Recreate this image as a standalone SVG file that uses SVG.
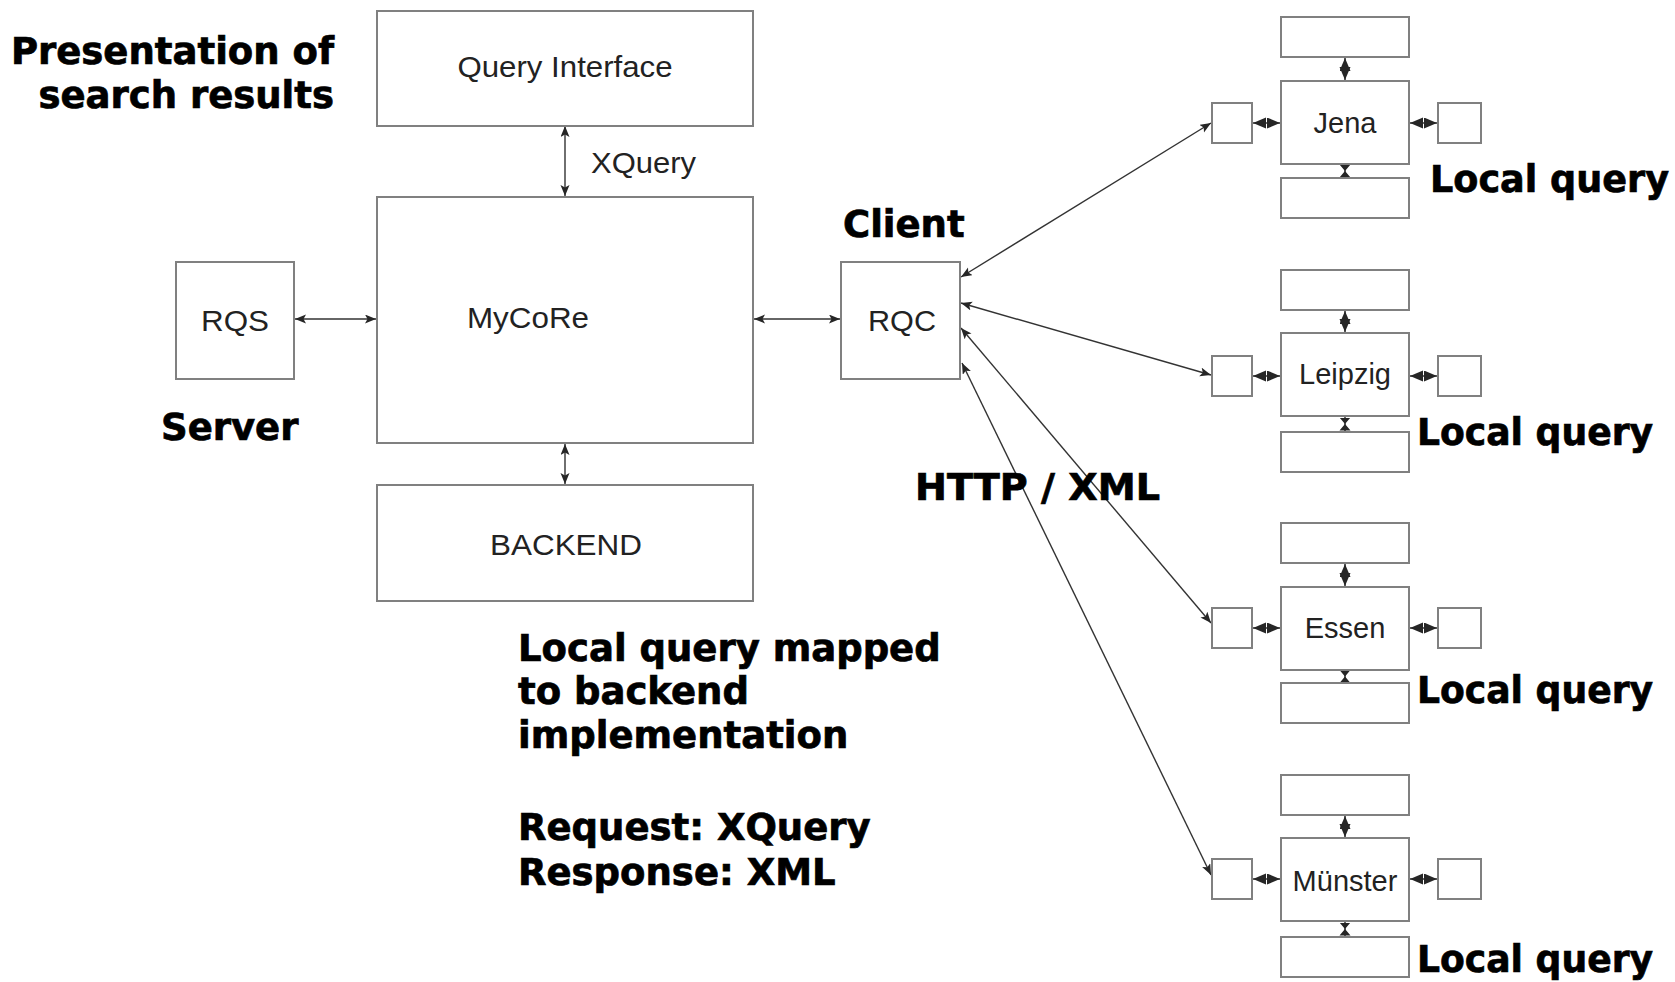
<svg xmlns="http://www.w3.org/2000/svg" width="1675" height="982" viewBox="0 0 1675 982">
<style>
.box{fill:#fff;stroke:#808080;stroke-width:2}
.lbl{font-family:"Liberation Sans",Arial,sans-serif;font-size:30px;fill:#222}
.site{font-family:"Liberation Sans",Arial,sans-serif;font-size:29px;fill:#222;text-anchor:middle}
.bold{font-family:"DejaVu Sans",Verdana,sans-serif;font-weight:bold;font-size:37px;fill:#000;stroke:#000;stroke-width:0.7}
.con{stroke:#333;stroke-width:1.4;fill:none;marker-start:url(#ah);marker-end:url(#ah)}
.sc{stroke:#333;stroke-width:1.5;fill:none;marker-start:url(#sh);marker-end:url(#sh)}
.tc{stroke:#333;stroke-width:1.5;fill:none;marker-mid:url(#hg)}
</style>
<defs>
<marker id="ah" markerUnits="userSpaceOnUse" markerWidth="12" markerHeight="10" refX="11" refY="4.5" orient="auto-start-reverse"><path d="M0,0 L11,4.5 L0,9 L2.5,4.5 z" fill="#262626"/></marker>
<marker id="sh" markerUnits="userSpaceOnUse" markerWidth="14" markerHeight="12" refX="13" refY="5.5" orient="auto-start-reverse"><path d="M0,0 L13,5.5 L0,11 z" fill="#262626"/></marker>
<marker id="hg" markerUnits="userSpaceOnUse" markerWidth="14" markerHeight="12" refX="6.5" refY="5.5" orient="auto"><path d="M0,0 L6.5,5.5 L0,11 z M13,0 L6.5,5.5 L13,11 z" fill="#262626"/></marker>
</defs>
<rect width="1675" height="982" fill="#fff"/>

<g id="connectors">
<line class="con" x1="565" y1="126" x2="565" y2="196"/>
<line class="con" x1="295" y1="319" x2="376" y2="319"/>
<line class="con" x1="565" y1="444" x2="565" y2="484"/>
<line class="con" x1="754" y1="319" x2="840" y2="319"/>
<line class="con" x1="961" y1="277" x2="1211" y2="123"/>
<line class="con" x1="961" y1="303" x2="1211" y2="375"/>
<line class="con" x1="961" y1="328" x2="1211" y2="623"/>
<line class="con" x1="962" y1="363" x2="1211" y2="875"/>
<!-- Jena -->
<line class="sc" x1="1345" y1="58" x2="1345" y2="80"/>
<polyline class="tc" points="1345,165 1345,171 1345,177"/>
<line class="sc" x1="1253" y1="123" x2="1280" y2="123"/>
<line class="sc" x1="1410" y1="123" x2="1437" y2="123"/>
<!-- Leipzig -->
<line class="sc" x1="1345" y1="311" x2="1345" y2="332"/>
<polyline class="tc" points="1345,417 1345,424 1345,431"/>
<line class="sc" x1="1253" y1="376" x2="1280" y2="376"/>
<line class="sc" x1="1410" y1="376" x2="1437" y2="376"/>
<!-- Essen -->
<line class="sc" x1="1345" y1="564" x2="1345" y2="586"/>
<polyline class="tc" points="1345,671 1345,676.5 1345,682"/>
<line class="sc" x1="1253" y1="628" x2="1280" y2="628"/>
<line class="sc" x1="1410" y1="628" x2="1437" y2="628"/>
<!-- Münster -->
<line class="sc" x1="1345" y1="816" x2="1345" y2="837"/>
<polyline class="tc" points="1345,922 1345,929 1345,936"/>
<line class="sc" x1="1253" y1="879" x2="1280" y2="879"/>
<line class="sc" x1="1410" y1="879" x2="1437" y2="879"/>
</g>

<g id="query-interface"><rect class="box" x="377" y="11" width="376" height="115"/><text class="lbl" x="565" y="77" text-anchor="middle" textLength="215" lengthAdjust="spacingAndGlyphs">Query Interface</text></g>
<g id="xquery-label"><text class="lbl" x="591" y="173" textLength="105" lengthAdjust="spacingAndGlyphs">XQuery</text></g>
<g id="mycore"><rect class="box" x="377" y="197" width="376" height="246"/><text class="lbl" x="467" y="328" textLength="122" lengthAdjust="spacingAndGlyphs">MyCoRe</text></g>
<g id="backend"><rect class="box" x="377" y="485" width="376" height="116"/><text class="lbl" x="566" y="555" text-anchor="middle" textLength="152" lengthAdjust="spacingAndGlyphs">BACKEND</text></g>
<g id="rqs"><rect class="box" x="176" y="262" width="118" height="117"/><text class="lbl" x="235" y="331" text-anchor="middle" textLength="68" lengthAdjust="spacingAndGlyphs">RQS</text></g>
<g id="rqc"><rect class="box" x="841" y="262" width="119" height="117"/><text class="lbl" x="902" y="331" text-anchor="middle" textLength="68" lengthAdjust="spacingAndGlyphs">RQC</text></g>

<g id="jena">
<rect class="box" x="1281" y="17" width="128" height="40"/>
<rect class="box" x="1281" y="81" width="128" height="83"/>
<rect class="box" x="1281" y="178" width="128" height="40"/>
<rect class="box" x="1212" y="103" width="40" height="40"/>
<rect class="box" x="1438" y="103" width="43" height="40"/>
<text class="site" x="1345" y="133">Jena</text>
</g>
<g id="leipzig">
<rect class="box" x="1281" y="270" width="128" height="40"/>
<rect class="box" x="1281" y="333" width="128" height="83"/>
<rect class="box" x="1281" y="432" width="128" height="40"/>
<rect class="box" x="1212" y="356" width="40" height="40"/>
<rect class="box" x="1438" y="356" width="43" height="40"/>
<text class="site" x="1345" y="384">Leipzig</text>
</g>
<g id="essen">
<rect class="box" x="1281" y="523" width="128" height="40"/>
<rect class="box" x="1281" y="587" width="128" height="83"/>
<rect class="box" x="1281" y="683" width="128" height="40"/>
<rect class="box" x="1212" y="608" width="40" height="40"/>
<rect class="box" x="1438" y="608" width="43" height="40"/>
<text class="site" x="1345" y="638">Essen</text>
</g>
<g id="muenster">
<rect class="box" x="1281" y="775" width="128" height="40"/>
<rect class="box" x="1281" y="838" width="128" height="83"/>
<rect class="box" x="1281" y="937" width="128" height="40"/>
<rect class="box" x="1212" y="859" width="40" height="40"/>
<rect class="box" x="1438" y="859" width="43" height="40"/>
<text class="site" x="1345" y="891">Münster</text>
</g>

<g id="annotations">
<text class="bold" x="334" y="64" text-anchor="end" font-size="36">Presentation of</text>
<text class="bold" x="334" y="108" text-anchor="end" font-size="36">search results</text>
<text class="bold" x="161" y="440">Server</text>
<text class="bold" x="843" y="237">Client</text>
<text class="bold" x="915" y="500" textLength="245" lengthAdjust="spacingAndGlyphs">HTTP / XML</text>
<text class="bold" x="1430" y="192" textLength="239" lengthAdjust="spacingAndGlyphs">Local query</text>
<text class="bold" x="1417" y="445" textLength="236" lengthAdjust="spacingAndGlyphs">Local query</text>
<text class="bold" x="1417" y="703" textLength="236" lengthAdjust="spacingAndGlyphs">Local query</text>
<text class="bold" x="1417" y="972" textLength="236" lengthAdjust="spacingAndGlyphs">Local query</text>
<text class="bold" x="518" y="661">Local query mapped</text>
<text class="bold" x="518" y="704">to backend</text>
<text class="bold" x="518" y="748">implementation</text>
<text class="bold" x="518" y="840">Request: XQuery</text>
<text class="bold" x="518" y="885">Response: XML</text>
</g>
</svg>
